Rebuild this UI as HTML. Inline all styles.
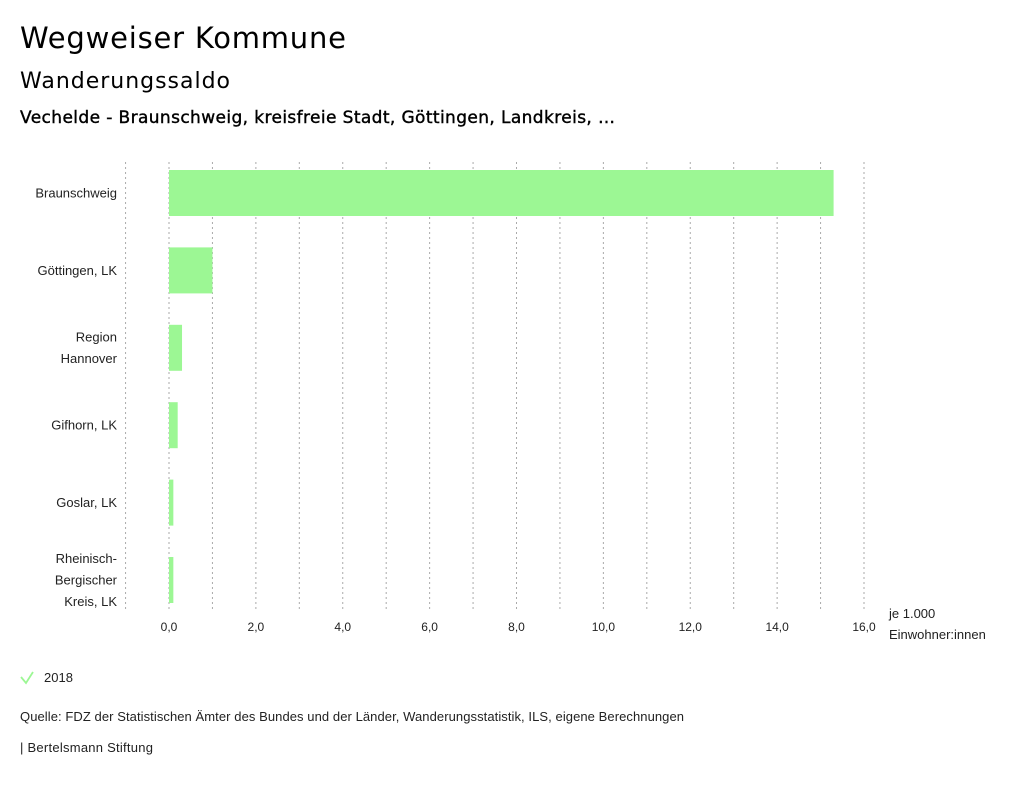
<!DOCTYPE html>
<html><head><meta charset="utf-8"><style>
body{margin:0;background:#fff;width:1024px;height:780px;overflow:hidden}
svg text{font-family:"Liberation Sans",sans-serif;fill:#222}
</style></head><body>
<svg id="c" width="1024" height="780" xmlns="http://www.w3.org/2000/svg">
<text x="20" y="48" style="font-family:'DejaVu Sans',sans-serif;font-size:29px;fill:#000" textLength="326">Wegweiser Kommune</text>
<text x="20" y="88" style="font-family:'DejaVu Sans',sans-serif;font-size:22px;fill:#000" textLength="210">Wanderungssaldo</text>
<text x="20" y="123" style="font-family:'DejaVu Sans',sans-serif;font-size:17px;fill:#000;stroke:#000;stroke-width:0.4" textLength="595">Vechelde - Braunschweig, kreisfreie Stadt, Göttingen, Landkreis, …</text>
<g id="grid"></g>
<g id="bars"></g>
<g id="ylab"></g>
<g id="xlab"></g>
<text x="889" y="618" font-size="13">je 1.000</text>
<text x="889" y="639" font-size="13">Einwohner:innen</text>
<g>
<path d="M21 677 L26 683 L33 672" stroke="#9cf794" stroke-width="1.8" fill="none"/>
<text x="44" y="682" font-size="13">2018</text>
</g>
<text x="20" y="721" font-size="13" textLength="664">Quelle: FDZ der Statistischen Ämter des Bundes und der Länder, Wanderungsstatistik, ILS, eigene Berechnungen</text>
<text x="20" y="752" font-size="13" textLength="133">| Bertelsmann Stiftung</text>
</svg>
<script>
const categories=[["Braunschweig"],["Göttingen, LK"],["Region","Hannover"],["Gifhorn, LK"],["Goslar, LK"],["Rheinisch-","Bergischer","Kreis, LK"]];
const values2018=[15.3,1.0,0.3,0.2,0.1,0.1];
const tickValues=[0,2,4,6,8,10,12,14,16];
const tickLabels=["0,0","2,0","4,0","6,0","8,0","10,0","12,0","14,0","16,0"];
const NS="http://www.w3.org/2000/svg";
const x0=169,x1=864,xmin=0,xmax=16,plotTop=154.3,band=77.4;
const xs=v=>x0+(v-xmin)/(xmax-xmin)*(x1-x0);
function mk(t,a,p){const e=document.createElementNS(NS,t);for(const k in a)e.setAttribute(k,a[k]);p.appendChild(e);return e;}
const g=document.getElementById('grid');
for(let v=-1;v<=16;v++){const l=mk('line',{x1:xs(v),x2:xs(v),y1:162,y2:612,stroke:'#aaa','stroke-width':1,'stroke-dasharray':'2,3'},g);

}
const xl=document.getElementById('xlab');
tickValues.forEach((v,i)=>{const t=mk('text',{x:xs(v),y:631,'font-size':12,'text-anchor':'middle'},xl);t.textContent=tickLabels[i];

});
const bg=document.getElementById('bars'),yl=document.getElementById('ylab');
categories.forEach((c,i)=>{const cy=plotTop+band*(i+0.5);const v=values2018[i];
const r=mk('rect',{x:Math.min(xs(0),xs(v)),y:cy-23,width:Math.abs(xs(v)-xs(0)),height:46,fill:'#9cf794'},bg);


c.forEach((s,j)=>{const t=mk('text',{x:117,y:cy+4.5+(j-(c.length-1)/2)*21.5,'font-size':13,'text-anchor':'end'},yl);t.textContent=s;

});});
</script>
</body></html>
